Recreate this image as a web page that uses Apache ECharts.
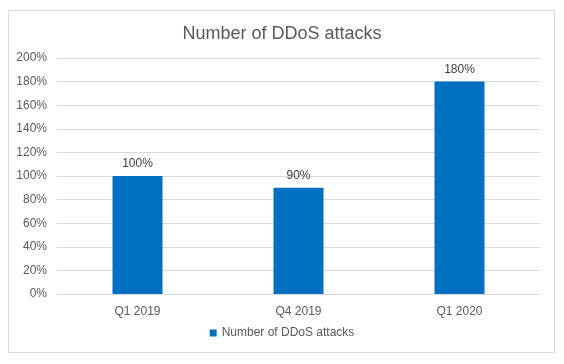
<!DOCTYPE html>
<html>
<head>
<meta charset="utf-8">
<script src="https://cdn.jsdelivr.net/npm/echarts@6/dist/echarts.min.js"></script>
<style>
body { margin: 0; background: #fff; }
#main { width: 564px; height: 364px; }
</style>
</head>
<body>
<div id="main"></div>
<script>
var quarters = ['Q1 2019', 'Q4 2019', 'Q1 2020'];
var attacks = [100, 90, 180];
var seriesName = 'Number of DDoS attacks';

var myChart = echarts.init(document.getElementById('main'));
var option = {
	animation: false,
	textStyle: { fontFamily: 'Liberation Sans, Arial, sans-serif' },
	graphic: [{
		type: 'rect',
		shape: { x: 8.5, y: 10.5, width: 546, height: 342 },
		style: { fill: 'none', stroke: '#d9d9d9', lineWidth: 1 },
		silent: true
	}],
	title: {
		text: 'Number of DDoS attacks',
		left: 'center',
		top: 20,
		textStyle: { fontSize: 18, fontWeight: 'normal', color: '#595959' }
	},
	legend: {
		data: [seriesName],
		bottom: 20,
		left: 'center',
		icon: 'rect',
		itemWidth: 7,
		itemHeight: 7,
		itemGap: 4,
		textStyle: { fontSize: 12, color: '#595959' }
	},
	grid: {
		left: 57,
		right: 24,
		top: 58,
		bottom: 70
	},
	xAxis: {
		type: 'category',
		data: quarters,
		axisLine: { lineStyle: { color: '#d9d9d9' } },
		axisTick: { show: false },
		axisLabel: { color: '#595959', fontSize: 12, margin: 12 }
	},
	yAxis: {
		type: 'value',
		min: 0,
		max: 200,
		interval: 20,
		axisLine: { show: false },
		axisTick: { show: false },
		splitLine: { lineStyle: { color: '#d9d9d9' } },
		axisLabel: { color: '#595959', fontSize: 12, margin: 10, formatter: '{value}%' }
	},
	series: [{
		name: seriesName,
		type: 'bar',
		barWidth: 50,
		data: attacks,
		itemStyle: { color: '#0070C0' },
		label: {
			show: true,
			position: 'top',
			distance: 6,
			color: '#404040',
			fontSize: 12,
			formatter: '{c}%'
		}
	}]
};
myChart.setOption(option);
</script>
</body>
</html>
